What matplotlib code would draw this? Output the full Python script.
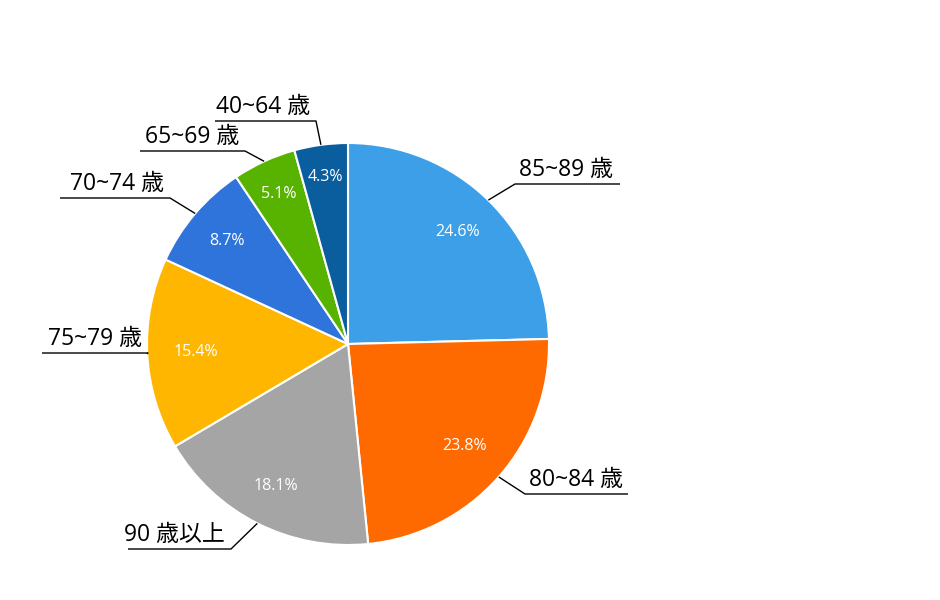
import numpy as np
import matplotlib
matplotlib.use("Agg")
import matplotlib.pyplot as plt

# ---- data ----
categories = ["85~89 歳", "80~84 歳", "90 歳以上", "75~79 歳", "70~74 歳", "65~69 歳", "40~64 歳"]
shares = [24.6, 23.8, 18.1, 15.4, 8.7, 5.1, 4.3]
colors = ["#3D9FE8", "#FF6A00", "#A5A5A5", "#FFB600", "#2E74DA", "#58B300", "#0B5E9E"]

# ---- layout (pixel space, y measured from top) ----
W, H = 940, 600
CX, CY, R = 348, 344, 201
# elbow point of each leader (x, y_from_top), underline outer x, side
label_layout = [
    (515, 184, 620, "right"),
    (525, 494, 628, "right"),
    (231, 549, 128, "left"),
    (148, 353, 42, "left"),
    (170, 198, 60, "left"),
    (245, 151, 140, "left"),
    (316, 121, 215, "left"),
]
pct_dist = [0.78, 0.77, 0.79, 0.76, 0.79, 0.82, 0.84]

plt.rcParams['font.family'] = ['Open Sans', 'Noto Sans CJK JP', 'DejaVu Sans']

fig = plt.figure(figsize=(W / 100, H / 100), dpi=100)
ax = fig.add_axes([0, 0, 1, 1])

def fy(y):
    return H - y

wedges, _ = ax.pie(shares, colors=colors, startangle=90, counterclock=False,
                   center=(CX, fy(CY)), radius=R,
                   wedgeprops=dict(edgecolor='white', linewidth=1.5))
ax.set_xlim(0, W)
ax.set_ylim(0, H)
ax.set_aspect('equal')
ax.axis('off')

for w, val, d, cat, (ex, ey, ux, side) in zip(wedges, shares, pct_dist, categories, label_layout):
    mid = np.deg2rad((w.theta1 + w.theta2) / 2)
    px = CX + d * R * np.cos(mid)
    py = fy(CY) + d * R * np.sin(mid)
    ax.text(px, py, f"{val}%", color='white', fontsize=11.5, ha='center', va='center')
    sx = CX + 1.0 * R * np.cos(mid)
    sy = fy(CY) + 1.0 * R * np.sin(mid)
    ax.plot([sx, ex, ux], [sy, fy(ey), fy(ey)], color='black', lw=1.0, solid_capstyle='butt')
    if side == "right":
        tx, ha = ex + 4, 'left'
    else:
        tx, ha = ex - 6, 'right'
    ax.text(tx, fy(ey) + 2, cat, fontsize=16.5, ha=ha, va='bottom', color='black')

fig.savefig("out.png", dpi=100)
